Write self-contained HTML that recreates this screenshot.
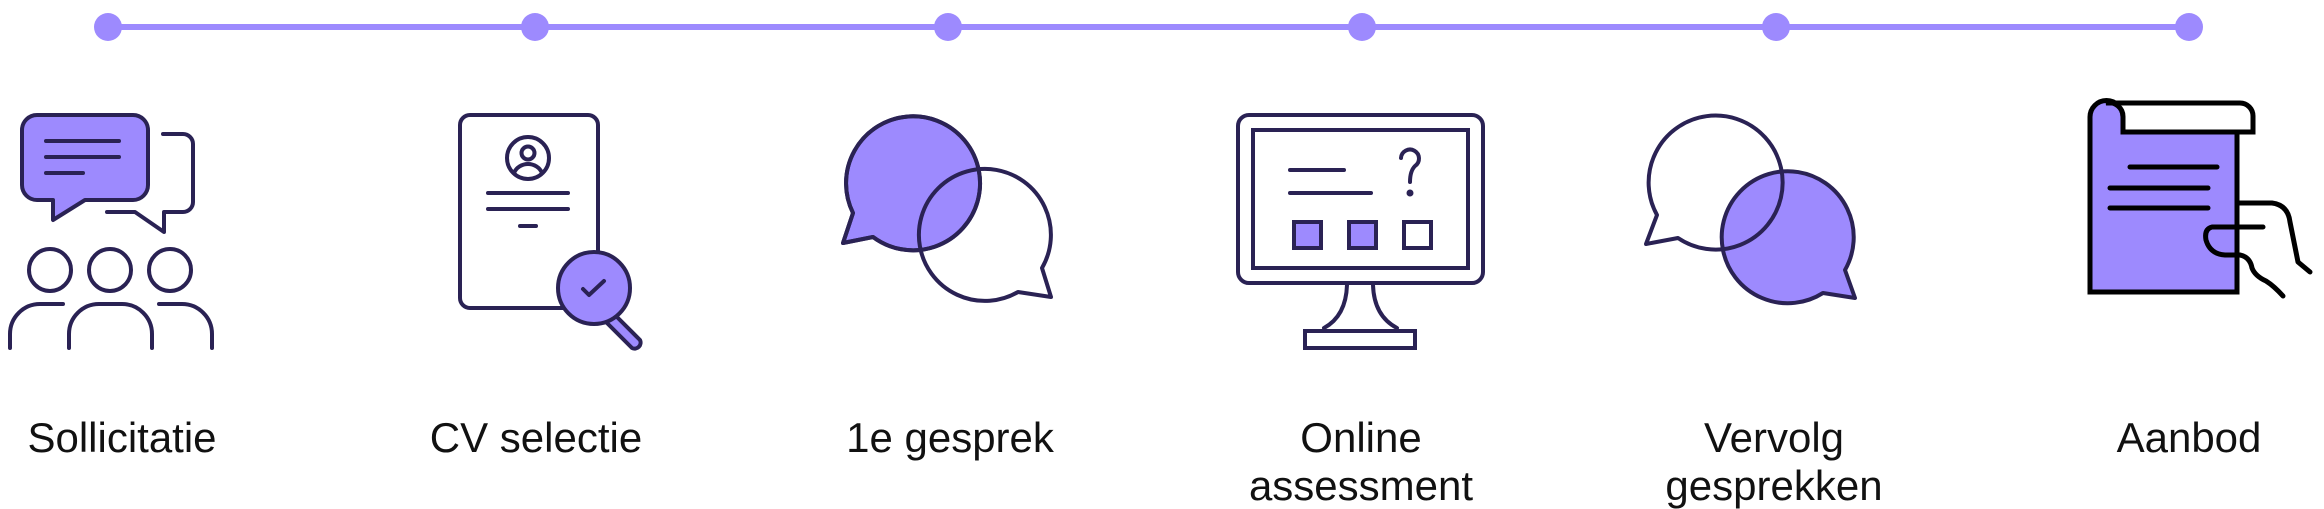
<!DOCTYPE html>
<html><head><meta charset="utf-8"><style>
html,body{margin:0;padding:0;background:#fff;}
svg{display:block;}
text{font-family:"Liberation Sans",sans-serif;font-size:42px;fill:#111;text-anchor:middle;}
</style></head><body>
<svg width="2324" height="509" viewBox="0 0 2324 509" xmlns="http://www.w3.org/2000/svg">
<!-- timeline -->
<line x1="108" y1="27" x2="2189" y2="27" stroke="#9d8afe" stroke-width="6"/>
<g fill="#9d8afe">
<circle cx="108" cy="27" r="14"/><circle cx="535" cy="27" r="14"/><circle cx="948" cy="27" r="14"/>
<circle cx="1362" cy="27" r="14"/><circle cx="1776" cy="27" r="14"/><circle cx="2189" cy="27" r="14"/>
</g>

<g stroke="#2a2254" stroke-width="4" fill="none" stroke-linecap="round" stroke-linejoin="round">
<!-- Icon 1 -->
<path d="M37 115 H133 A15 15 0 0 1 148 130 V185 A15 15 0 0 1 133 200 H85 L53 220 V200 H37 A15 15 0 0 1 22 185 V130 A15 15 0 0 1 37 115 Z" fill="#9d8afe"/>
<line x1="46" y1="141" x2="119" y2="141"/><line x1="46" y1="157" x2="119" y2="157"/><line x1="46" y1="173" x2="83" y2="173"/>
<path d="M163 134 H183 A10 10 0 0 1 193 144 V202 A10 10 0 0 1 183 212 H164 V232 L135 212 H107"/>
<circle cx="50" cy="270" r="21"/><circle cx="110" cy="270" r="21"/><circle cx="170" cy="270" r="21"/>
<path d="M63 304 H40 A30 30 0 0 0 10 334 V348"/>
<path d="M69 348 V334 A30 30 0 0 1 99 304 H122 A30 30 0 0 1 152 334 V348"/>
<path d="M159 304 H182 A30 30 0 0 1 212 334 V348"/>

<!-- Icon 2 -->
<rect x="460" y="115" width="138" height="193" rx="10" fill="#fff"/>
<circle cx="528" cy="158" r="21"/>
<circle cx="528" cy="153" r="6.5"/>
<path d="M514 173 A15 14 0 0 1 542 173"/>
<line x1="488" y1="193" x2="568" y2="193"/><line x1="488" y1="209" x2="568" y2="209"/><line x1="520" y1="226" x2="536" y2="226"/>
<path d="M614 314 L640 340 A6 6 0 0 1 632 348 L606 322 Z" fill="#9d8afe"/>
<circle cx="594" cy="288" r="36" fill="#9d8afe"/>
<path d="M583 289 L589 295 L604 281"/>

<!-- Icon 3 -->
<path d="M873 237 L843 243 L853 213 A67 67 0 1 1 873 237 Z" fill="#9d8afe"/>
<path d="M1042 268 L1051 297 L1018 292 A66 66 0 1 1 1042 268 Z"/>
<path d="M873 237 L843 243 L853 213 A67 67 0 1 1 873 237 Z"/>

<!-- Icon 4 -->
<rect x="1238" y="115" width="245" height="168" rx="11"/>
<rect x="1253" y="130" width="215" height="138" stroke-linejoin="miter"/>
<line x1="1290" y1="170" x2="1344" y2="170"/><line x1="1290" y1="193" x2="1371" y2="193"/>
<path d="M1401 158 A9 9 0 1 1 1415 166 Q1410 171 1410 182"/>
<circle cx="1410" cy="193" r="1.5" fill="#2a2254"/>
<rect x="1294" y="222" width="27" height="26" fill="#9d8afe" stroke-linejoin="miter"/>
<rect x="1349" y="222" width="27" height="26" fill="#9d8afe" stroke-linejoin="miter"/>
<rect x="1404" y="222" width="27" height="26" stroke-linejoin="miter"/>
<path d="M1347 285 Q1346 316 1324 328"/><path d="M1373 285 Q1374 316 1397 328"/>
<rect x="1305" y="331" width="110" height="17" stroke-linejoin="miter"/>

<!-- Icon 5 -->
<path d="M1845 270 L1855 298 L1823 293 A66 66 0 1 1 1845 270 Z" fill="#9d8afe"/>
<path d="M1678 238 L1646 244 L1657 215 A67 67 0 1 1 1678 238 Z"/>
</g>

<!-- Icon 6 -->
<g stroke="#000" stroke-width="5" fill="none" stroke-linecap="round" stroke-linejoin="round">
<path d="M2090 292 V117 A14 14 0 0 1 2123 117 V132 H2237 V292 Z" fill="#9d8afe" stroke-linejoin="miter"/>
<path d="M2106 103 H2240 A13 13 0 0 1 2253 116 V132 H2123 V117 A14 14 0 0 0 2106 103 Z" fill="#fff" stroke-linejoin="miter"/>
<line x1="2130" y1="167" x2="2217" y2="167"/><line x1="2110" y1="188" x2="2208" y2="188"/><line x1="2110" y1="208" x2="2208" y2="208"/>
<path d="M2237 203 H2272 Q2288 205 2290 222 L2298 262 L2310 272"/>
<path d="M2263 227 H2212 Q2204 229 2206 240 Q2210 254 2225 255 H2240 Q2250 257 2252 268 Q2255 276 2266 281 Q2274 286 2283 296"/>
</g>

<!-- labels -->
<text x="122" y="452">Sollicitatie</text>
<text x="536" y="452">CV selectie</text>
<text x="950" y="452">1e gesprek</text>
<text x="1361" y="452">Online</text>
<text x="1361" y="500">assessment</text>
<text x="1774" y="452">Vervolg</text>
<text x="1774" y="500">gesprekken</text>
<text x="2189" y="452">Aanbod</text>
</svg>
</body></html>
